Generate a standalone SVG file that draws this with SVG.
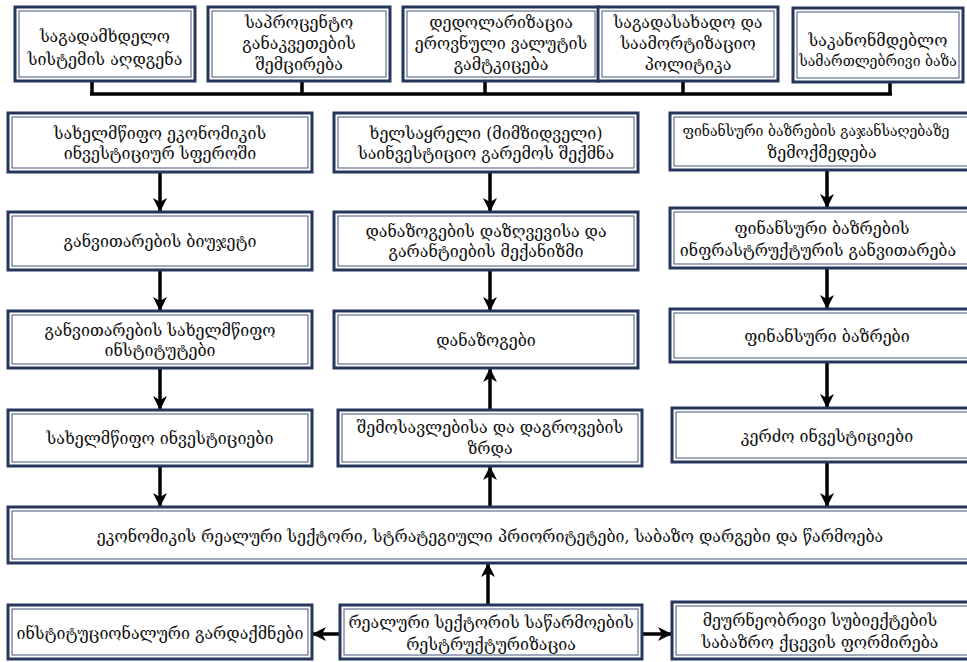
<svg xmlns="http://www.w3.org/2000/svg" width="967" height="662" viewBox="0 0 967 662">
<defs>
<style>
.bo{fill:#ffffff;stroke:#26355a;stroke-width:3}
.bi{fill:none;stroke:#45557a;stroke-width:1}
.t{font-family:"DejaVu Serif","DejaVu Sans",serif;font-size:16px;fill:#111;text-anchor:middle;dominant-baseline:central}
.s{font-size:14px}
.c{fill:none;stroke:#000;stroke-width:3.5}
.a{fill:none;stroke:#000;stroke-width:3.5;marker-end:url(#ah)}
</style>
<marker id="ah" markerUnits="userSpaceOnUse" markerWidth="16" markerHeight="16" refX="14" refY="7" orient="auto" viewBox="0 0 16 14">
<path d="M0,0 L14,7 L0,14 L4,7 z" fill="#000"/>
</marker>
</defs>
<rect width="967" height="662" fill="#ffffff"/>

<g id="connectors">
<path class="c" d="M92,81 V94 M302,81 V94 M485,81 V94 M683,81 V94 M890,81 V94 M90,94 H892"/>
<path class="a" d="M160,172 V212"/>
<path class="a" d="M160,270 V311"/>
<path class="a" d="M160,368 V410"/>
<path class="a" d="M160,466 V507"/>
<path class="a" d="M490,172 V212"/>
<path class="a" d="M490,270 V311"/>
<path class="a" d="M490,410 V368"/>
<path class="a" d="M490,507 V466"/>
<path class="a" d="M827,170 V208"/>
<path class="a" d="M827,268 V309"/>
<path class="a" d="M827,362 V408"/>
<path class="a" d="M827,462 V507"/>
<path class="a" d="M488,605 V563"/>
<path class="a" d="M340,634 H312"/>
<path class="a" d="M642,634 H672"/>
</g>

<g id="t1"><rect class="bo" x="15" y="7" width="180" height="74"/><rect class="bi" x="19" y="11" width="172" height="66"/>
<text class="t" x="105" y="36">საგადამხდელო</text><text class="t" x="105" y="59">სისტემის აღდგენა</text></g>
<g id="t2"><rect class="bo" x="208" y="7" width="182" height="74"/><rect class="bi" x="212" y="11" width="174" height="66"/>
<text class="t" x="299" y="22">საპროცენტო</text><text class="t" x="299" y="43">განაკვეთების</text><text class="t" x="299" y="64">შემცირება</text></g>
<g id="t3"><rect class="bo" x="403" y="7" width="196" height="74"/><rect class="bi" x="407" y="11" width="188" height="66"/>
<text class="t" x="501" y="22">დედოლარიზაცია</text><text class="t" x="501" y="43">ეროვნული  ვალუტის</text><text class="t" x="501" y="64">გამტკიცება</text></g>
<g id="t4"><rect class="bo" x="598" y="7" width="180" height="74"/><rect class="bi" x="602" y="11" width="172" height="66"/>
<text class="t" x="688" y="22">საგადასახადო და</text><text class="t" x="688" y="43">საამორტიზაციო</text><text class="t" x="688" y="64">პოლიტიკა</text></g>
<g id="t5"><rect class="bo" x="793" y="8" width="170" height="74"/><rect class="bi" x="797" y="12" width="162" height="66"/>
<text class="t" x="878" y="40">საკანონმდებლო</text><text class="t s" x="878" y="61">სამართლებრივი ბაზა</text></g>

<g id="l1"><rect class="bo" x="8" y="113" width="304" height="59"/><rect class="bi" x="12" y="117" width="296" height="51"/>
<text class="t" x="160" y="133">სახელმწიფო ეკონომიკის</text><text class="t" x="160" y="153">ინვესტიციურ სფეროში</text></g>
<g id="l2"><rect class="bo" x="8" y="212" width="304" height="58"/><rect class="bi" x="12" y="216" width="296" height="50"/>
<text class="t" x="160" y="241">განვითარების ბიუჯეტი</text></g>
<g id="l3"><rect class="bo" x="8" y="311" width="304" height="57"/><rect class="bi" x="12" y="315" width="296" height="49"/>
<text class="t" x="160" y="330">განვითარების სახელმწიფო</text><text class="t" x="160" y="350">ინსტიტუტები</text></g>
<g id="l4"><rect class="bo" x="8" y="410" width="304" height="56"/><rect class="bi" x="12" y="414" width="296" height="48"/>
<text class="t" x="160" y="438">სახელმწიფო ინვესტიციები</text></g>

<g id="m1"><rect class="bo" x="334" y="113" width="304" height="59"/><rect class="bi" x="338" y="117" width="296" height="51"/>
<text class="t" x="486" y="133">ხელსაყრელი (მიმზიდველი)</text><text class="t" x="486" y="153">საინვესტიციო გარემოს შექმნა</text></g>
<g id="m2"><rect class="bo" x="334" y="212" width="304" height="58"/><rect class="bi" x="338" y="216" width="296" height="50"/>
<text class="t" x="486" y="231">დანაზოგების დაზღვევისა და</text><text class="t" x="486" y="251">გარანტიების მექანიზმი</text></g>
<g id="m3"><rect class="bo" x="334" y="311" width="304" height="57"/><rect class="bi" x="338" y="315" width="296" height="49"/>
<text class="t" x="486" y="340">დანაზოგები</text></g>
<g id="m4"><rect class="bo" x="338" y="410" width="304" height="56"/><rect class="bi" x="342" y="414" width="296" height="48"/>
<text class="t" x="490" y="427">შემოსავლებისა და დაგროვების</text><text class="t" x="490" y="448">ზრდა</text></g>

<g id="r1"><rect class="bo" x="670" y="113" width="316" height="57"/><rect class="bi" x="674" y="117" width="308" height="49"/>
<text class="t s" x="816" y="131">ფინანსური ბაზრების გაჯანსაღებაზე</text><text class="t" x="822" y="152">ზემოქმედება</text></g>
<g id="r2"><rect class="bo" x="670" y="208" width="316" height="60"/><rect class="bi" x="674" y="212" width="308" height="52"/>
<text class="t" x="822" y="228">ფინანსური ბაზრების</text><text class="t" x="818" y="250">ინფრასტრუქტურის განვითარება</text></g>
<g id="r3"><rect class="bo" x="670" y="309" width="316" height="53"/><rect class="bi" x="674" y="313" width="308" height="45"/>
<text class="t" x="827" y="336">ფინანსური ბაზრები</text></g>
<g id="r4"><rect class="bo" x="672" y="408" width="316" height="54"/><rect class="bi" x="676" y="412" width="308" height="46"/>
<text class="t" x="827" y="436">კერძო ინვესტიციები</text></g>

<g id="big"><rect class="bo" x="8" y="507" width="980" height="56"/><rect class="bi" x="12" y="511" width="972" height="48"/>
<text class="t" x="490" y="536">ეკონომიკის რეალური სექტორი, სტრატეგიული პრიორიტეტები, საბაზო დარგები და წარმოება</text></g>

<g id="b1"><rect class="bo" x="8" y="605" width="304" height="54"/><rect class="bi" x="12" y="609" width="296" height="46"/>
<text class="t" x="160" y="633">ინსტიტუციონალური გარდაქმნები</text></g>
<g id="b2"><rect class="bo" x="340" y="605" width="302" height="54"/><rect class="bi" x="344" y="609" width="294" height="46"/>
<text class="t" x="491" y="622">რეალური სექტორის საწარმოების</text><text class="t" x="491" y="644">რესტრუქტურიზაცია</text></g>
<g id="b3"><rect class="bo" x="672" y="602" width="316" height="57"/><rect class="bi" x="676" y="606" width="308" height="49"/>
<text class="t" x="820" y="620">მეურნეობრივი სუბიექტების</text><text class="t" x="820" y="642">საბაზრო ქცევის ფორმირება</text></g>
</svg>
